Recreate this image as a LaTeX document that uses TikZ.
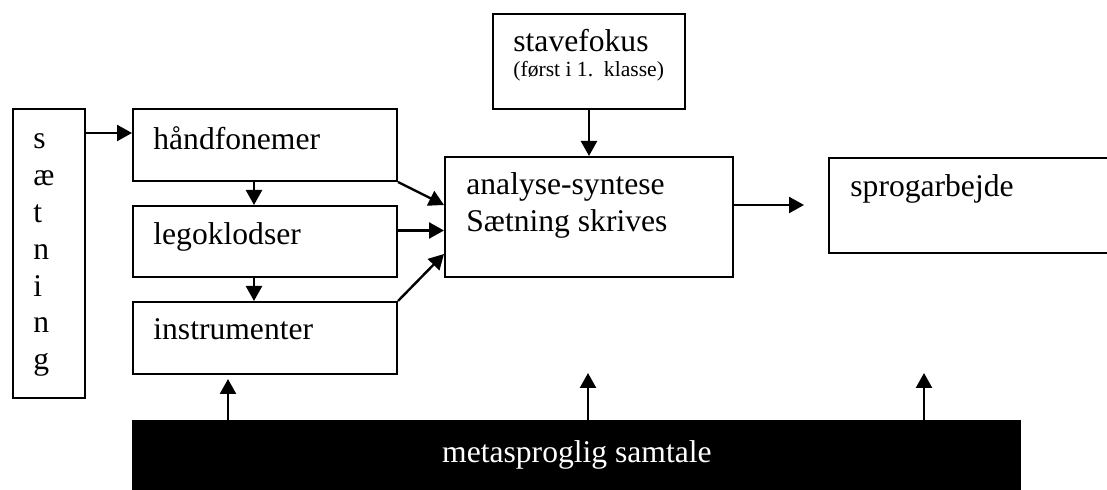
\documentclass[tikz,border=0pt]{standalone}
\usepackage{fontspec}
\setmainfont{Liberation Serif}
\usetikzlibrary{arrows.meta}
\usetikzlibrary{positioning}
\tikzset{
	box/.style={draw=black, line width=1pt, anchor=north west, inner sep=0pt},
	txt/.style={anchor=base west, inner sep=0pt, font=\fontsize{15.8}{19}\selectfont},
	smalltxt/.style={anchor=base west, inner sep=0pt, font=\fontsize{10.8}{13}\selectfont},
	arrow/.style={line width=1.2pt, -{Triangle[length=7.5pt,width=8pt]}},
}

\begin{document}
\begin{tikzpicture}[x=0.5pt, y=-0.5pt]
		\useasboundingbox (0,0) rectangle (1107,490);
		\clip (0,0) rectangle (1107,490);
		% Saetning, one letter per line
		\node [box, minimum width=36pt, minimum height=144.5pt] (saet) at (12,108) {};
		\foreach \c [count=\i] in {s,æ,t,n,i,n,g}
			\node [txt] (bogstav\i) at (33, {149+36.8*(\i-1)}) {\c};
		% The three left boxes
		\node [box, minimum width=132pt, minimum height=36pt] (hand) at (132,108) {};
		\node [txt] (handtxt) at (153,150) {håndfonemer};
		\node [box, minimum width=132pt, minimum height=35.5pt] (lego) at (132,205) {};
		\node [txt] (legotxt) at (153,245) {legoklodser};
		\node [box, minimum width=132pt, minimum height=36pt] (instr) at (132,301) {};
		\node [txt] (instrtxt) at (153,340) {instrumenter};
		% Stavefokus and analyse-syntese
		\node [box, minimum width=96pt, minimum height=47.5pt] (stave) at (492,13) {};
		\node [txt] (stavetxt) at (513,52) {stavefokus};
		\node [smalltxt] (stavesmall) at (513,77) {(først i 1.\ \ klasse)};
		\node [box, minimum width=144pt, minimum height=60pt] (analyse) at (444,156) {};
		\node [txt] (analysetxt) at (466,195) {analyse-syntese};
		\node [txt] (skrivtxt) at (466,232) {Sætning skrives};
		% Sprogarbejde, cut off at the right
		\node [box, minimum width=150pt, minimum height=47.5pt] (sprog) at (828,157) {};
		\node [txt] (sprogtxt) at (850,197) {sprogarbejde};
		% Metasproglig samtale
		\node [anchor=north west, inner sep=0pt, fill=black, minimum width=444.5pt, minimum height=35pt,
			text=white, font=\fontsize{15.8}{19}\selectfont] (meta) at (132,420) {metasproglig samtale};
		% Arrows
		\draw [arrow] ([yshift=-12.5pt]saet.north east) -- ([yshift=-12.5pt]hand.north west);
		\draw [arrow] ([xshift=-5.5pt]hand.south) -- ([xshift=-5.5pt]lego.north);
		\draw [arrow] ([xshift=-5.5pt]lego.south) -- ([xshift=-5.5pt]instr.north);
		\draw [arrow] (hand.south east) -- ([yshift=6pt]analyse.west);
		\draw [arrow] ([yshift=5.5pt]lego.east) -- ([yshift=5.5pt]lego.east -| analyse.west);
		\draw [arrow] (instr.north east) -- ([yshift=-18.5pt]analyse.west);
		\draw [arrow] (stave.south) -- (analyse.north);
		\coordinate (sprogind) at (804,205);
		\draw [arrow] (sprogind -| analyse.east) -- (sprogind);
		\coordinate (op1) at (228,379);
		\coordinate (op2) at (588,373);
		\coordinate (op3) at (924,373);
		\draw [arrow] (op1 |- meta.north) -- (op1);
		\draw [arrow] (op2 |- meta.north) -- (op2);
		\draw [arrow] (op3 |- meta.north) -- (op3);
\end{tikzpicture}
\end{document}
